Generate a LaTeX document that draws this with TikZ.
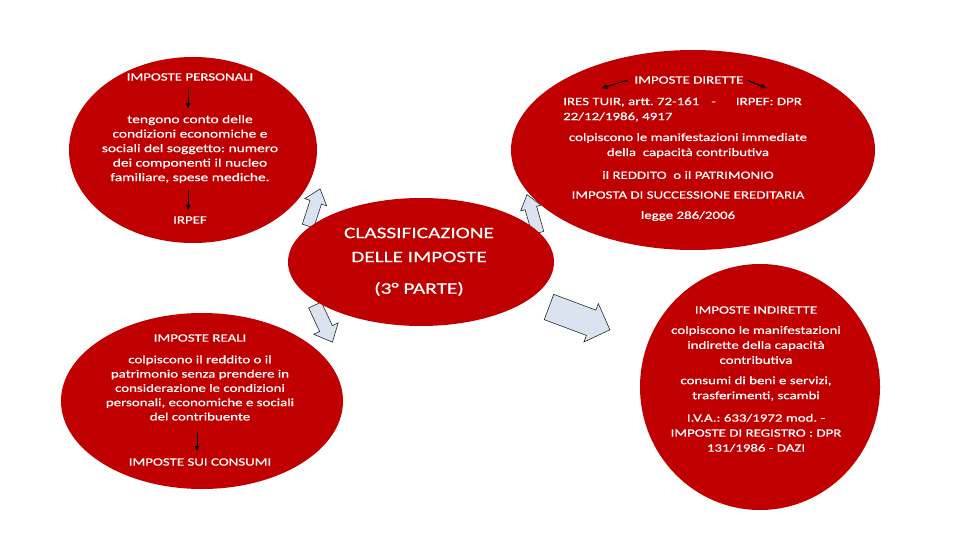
\documentclass[tikz,border=0pt]{standalone}
\usepackage{fontspec}
\setmainfont{Carlito}[FakeStretch=1.33, FakeBold=0.6]
\usetikzlibrary{shapes.geometric,arrows.meta}
\definecolor{ovalred}{RGB}{192,0,0}
\definecolor{arrfill}{RGB}{219,227,241}
\definecolor{arrline}{RGB}{40,40,40}
\tikzset{
  oval/.style={ellipse, fill=ovalred, draw=none, inner sep=0pt},
  txt/.style={text=white, inner sep=0pt, align=center, font=\fontsize{11.2}{14.5}\selectfont},
  txtb/.style={text=white, inner sep=0pt, align=center, font=\fontsize{11.2}{15}\selectfont},
  title/.style={text=white, inner sep=0pt, align=center, font=\fontsize{16}{24}\selectfont},
  blockarr/.style={fill=arrfill, draw=arrline, line width=0.6pt, line join=miter},
  smallarr/.style={-{Triangle[length=5pt,width=4.5pt]}, line width=1pt, black},
}
\newcommand{\blkarrow}[7]{%
  \draw[blockarr, shift={(#1,#2)}, rotate=#3]
    (0,{-#5/2}) -- ({#4-#7},{-#5/2}) -- ({#4-#7},{-#6/2}) -- (#4,0)
    -- ({#4-#7},{#6/2}) -- ({#4-#7},{#5/2}) -- (0,{#5/2}) -- cycle;}
\begin{document}
\begin{tikzpicture}[x=1pt,y=-1pt]
\frenchspacing
\fill[white] (0,0) rectangle (960,540);
\useasboundingbox (0,0) rectangle (960,540);

% block arrows (behind the ovals)
\blkarrow{308}{226}{72}{39}{12}{23}{14}
\blkarrow{538}{233}{106}{40}{12}{21}{14}
\blkarrow{315}{305}{-65}{41}{14}{27}{15}
\blkarrow{549}{307}{-20.5}{65}{27}{41}{20}

% ovals
\node[oval, minimum width=248pt, minimum height=186pt] (e1) at (193,150) {};
\node[oval, minimum width=364pt, minimum height=200pt] (e2) at (693,150) {};
\node[oval, minimum width=266pt, minimum height=128pt] (e3) at (421,262) {};
\node[oval, minimum width=282pt, minimum height=176pt] (e4) at (202,401) {};
\node[oval, minimum width=240pt, minimum height=246pt] (e5) at (760,387) {};

% top-left
\node[txt] (p1) at (190,77) {IMPOSTE PERSONALI};
\node[txt, font=\fontsize{11.6}{14.5}\selectfont] (p2) at (190,149) {tengono conto delle\\condizioni economiche e\\sociali del soggetto: numero\\dei componenti il nucleo\\familiare, spese mediche.};
\node[txt] (p3) at (190,220) {IRPEF};
\coordinate (pa1) at (188,88);
\coordinate (pa2) at (188,108);
\coordinate (pa3) at (188,190);
\coordinate (pa4) at (188,210);
\draw[smallarr] (pa1) -- (pa2);
\draw[smallarr] (pa3) -- (pa4);

% top-right
\node[txt] (d1) at (689,80) {IMPOSTE DIRETTE};
\node[txtb, anchor=west, align=left] (d2) at (563,109.5) {IRES TUIR, artt. 72-161\hspace{12pt}-\hspace{20pt}IRPEF: DPR\\22/12/1986, 4917};
\node[txtb] (d3) at (688,145.5) {colpiscono le manifestazioni immediate\\della~~capacità contributiva};
\node[txt] (d4) at (688,175) {il REDDITO~~o il PATRIMONIO};
\node[txt] (d5) at (688,195) {IMPOSTA DI SUCCESSIONE EREDITARIA};
\node[txt] (d6) at (688,216) {legge 286/2006};
\coordinate (da1) at (628,80);
\coordinate (da2) at (602,88);
\coordinate (da3) at (747,80);
\coordinate (da4) at (766,88);
\draw[smallarr] (da1) -- (da2);
\draw[smallarr] (da3) -- (da4);

% centre
\node[title] (c1) at (419,245) {CLASSIFICAZIONE\\DELLE IMPOSTE};
\node[title] (c2) at (419,289) {(3° PARTE)};

% bottom-left
\node[txt] (r1) at (200,338) {IMPOSTE REALI};
\node[txt, font=\fontsize{11.2}{14.3}\selectfont] (r2) at (200,388) {colpiscono il reddito o il\\patrimonio senza prendere in\\considerazione le condizioni\\personali, economiche e sociali\\del contribuente};
\node[txt] (r3) at (200,462) {IMPOSTE SUI CONSUMI};
\coordinate (ra1) at (197,432);
\coordinate (ra2) at (197,451);
\draw[smallarr] (ra1) -- (ra2);

% bottom-right
\node[txt] (i1) at (756,310) {IMPOSTE INDIRETTE};
\node[txtb] (i2) at (756,345) {colpiscono le manifestazioni\\indirette della capacità\\contributiva};
\node[txtb] (i3) at (756,388.5) {consumi di beni e servizi,\\trasferimenti, scambi};
\node[txtb] (i4) at (756,433) {I.V.A.: 633/1972 mod. -\\IMPOSTE DI REGISTRO : DPR\\131/1986 - DAZI};
\end{tikzpicture}
\end{document}
